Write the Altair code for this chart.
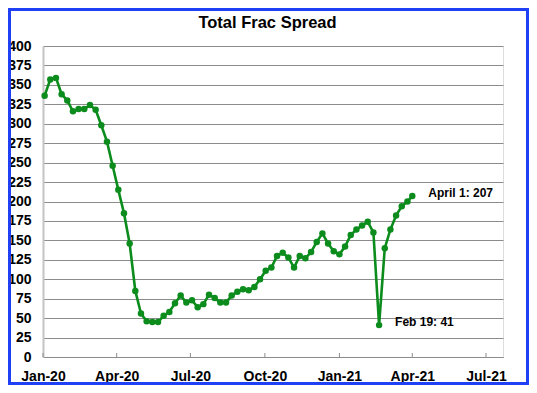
import altair as alt
import pandas as pd

# weekly total frac spread count (Jan 3 2020 .. Apr 1 2021)
dates = list(pd.date_range("2020-01-03", periods=65, freq="7D").strftime("%Y-%m-%d")) + ["2021-04-01"]
values = [336, 357, 359, 338, 330, 316, 319, 319, 324, 318,
          298, 277, 246, 215, 185, 146, 85, 56, 46, 45,
          45, 53, 58, 69, 79, 70, 73, 64, 68, 80,
          76, 70, 70, 79, 84, 87, 86, 90, 100, 111,
          115, 130, 134, 128, 115, 130, 127, 135, 148, 159,
          146, 136, 132, 142, 157, 164, 169, 174, 160, 41,
          140, 164, 182, 194, 200, 207]

annot_dates = ["2021-04-01", "2021-02-19"]
annot_values = [207, 41]
annot_labels = ["April 1: 207", "Feb 19: 41"]

tick_dates = ["2020-01-01", "2020-04-01", "2020-07-01", "2020-10-01",
              "2021-01-01", "2021-04-01", "2021-07-01"]
y_ticks = list(range(0, 401, 25))

W, H = 460, 311
GREEN = "#0b8c1c"
FONT = "Liberation Sans"

df = pd.DataFrame({"date": dates, "value": values})
ann = pd.DataFrame({"date": annot_dates, "value": annot_values, "label": annot_labels})
ticks = pd.DataFrame({"date": tick_dates})

xscale = alt.Scale(type="utc", domain=[alt.DateTime(year=2020, month=1, date=1, utc=True),
                                       alt.DateTime(year=2021, month=7, date=22, utc=True)])
yscale = alt.Scale(domain=[0, 400], nice=False, zero=True)

x_axis = alt.Axis(values=[alt.DateTime(year=int(d[:4]), month=int(d[5:7]), date=1, utc=True) for d in tick_dates],
                  labelExpr="utcFormat(datum.value, '%b-%y')", grid=False, ticks=False, labelPadding=12,
                  labelFont=FONT, labelFontSize=14, labelFontWeight="bold", labelColor="black",
                  labelFlush=False, domainColor="#8c8c8c", domainWidth=1, title=None, labelOverlap=False)
y_axis = alt.Axis(values=y_ticks, grid=True, gridColor="#8c8c8c", gridWidth=1, ticks=False,
                  labelPadding=12, labelFont=FONT, labelFontSize=14, labelFontWeight="bold",
                  labelColor="black", labelFlush=False, domainColor="#c4c4c4", domainWidth=2,
                  title=None, labelOverlap=False)

X = alt.X("date:T", scale=xscale, axis=x_axis)
Y = alt.Y("value:Q", scale=yscale, axis=y_axis)

line = alt.Chart(df).mark_line(color=GREEN, strokeWidth=2.6,
                               point=alt.OverlayMarkDef(size=42, filled=True, color=GREEN, opacity=1)).encode(
    x=X, y=Y,
)

tickmarks = alt.Chart(ticks).mark_rule(color="#8c8c8c", strokeWidth=1).encode(
    x=X,
    y=alt.value(H),
    y2=alt.value(H - 4),
)

labels = alt.Chart(ann).mark_text(font=FONT, fontSize=12, fontWeight="bold", color="black",
                                  align="left", baseline="middle", dx=16, dy=-3).encode(
    x=X, y=Y,
    text="label:N",
)

title = alt.Chart(pd.DataFrame({"t": ["Total Frac Spread"]})).mark_text(
    font=FONT, fontSize=16.5, fontWeight="bold", color="black", align="center", baseline="middle"
).encode(x=alt.value(224.5), y=alt.value(-23), text="t:N")

frame = alt.Chart(pd.DataFrame({"a": [0]})).mark_rect(
    filled=False, stroke="#1f40f5", strokeWidth=3, clip=False
).encode(x=alt.value(-33.5), x2=alt.value(W + 24.5), y=alt.value(-36.5), y2=alt.value(H + 26.5))

chart = alt.layer(line, tickmarks, labels, title, frame).properties(
    width=W, height=H,
    padding={"left": 35, "top": 38, "right": 26, "bottom": 28},
    autosize=alt.AutoSizeParams(type="none"),
).configure_view(stroke=None).configure(background="white")

chart.save("out.html", embed_options={"renderer": "svg", "actions": False})
